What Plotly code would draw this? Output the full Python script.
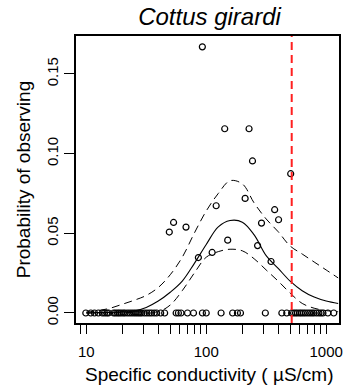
import plotly.graph_objects as go

# ---- data ----
# observed proportions (nonzero)
obs_x = [92.8, 142.6, 227.5, 243, 506, 211, 121, 372, 401, 289, 53.4, 49.2, 67.8, 151, 268, 112, 86, 347]
obs_y = [0.167, 0.1156, 0.1156, 0.0954, 0.0874, 0.0719, 0.0673, 0.0648, 0.0585, 0.0564,
         0.0568, 0.0508, 0.0539, 0.0457, 0.0423, 0.038, 0.0348, 0.0323]
# observed zeros
zero_x = [9.9, 10.9, 11.7, 12.6, 13.6, 14.2, 14.8, 15.3, 16.9, 17.5, 18.2, 18.8, 19.5, 20.3,
          21.0, 22.0, 23.0, 24.0, 25.0, 26.0, 27.0, 28.0, 29.0, 30.5, 32.0, 33.5, 35.0, 36.8,
          38.6, 41.7, 45.0, 56.1, 58.6, 61.6, 69.8, 78.3, 92.9, 100, 133, 166, 182, 193, 311,
          427, 469, 515, 535, 555, 575, 600, 620, 645, 670, 700, 730, 760, 790, 830, 870, 905,
          940, 1033, 1157]
zero_y = [0.0] * len(zero_x)

# fitted curve and confidence bounds
curve_x = [10, 12.6, 15.8, 20, 25.1, 31.6, 39.8, 50.1, 63.1, 79.4, 100, 126, 158, 200, 251,
           316, 398, 501, 631, 794, 1000, 1259]
fit_y = [0.0001, 0.0002, 0.0004, 0.0007, 0.0013, 0.0035, 0.0075, 0.013, 0.020, 0.031, 0.043,
         0.054, 0.058, 0.057, 0.049, 0.036, 0.028, 0.020, 0.014, 0.010, 0.0075, 0.006]
upper_y = [0.0006, 0.0015, 0.003, 0.0055, 0.008, 0.011, 0.016, 0.024, 0.035, 0.050, 0.064,
           0.075, 0.083, 0.081, 0.069, 0.059, 0.051, 0.042, 0.037, 0.032, 0.027, 0.022]
lower_y = [0.0, 0.0, 0.0001, 0.0002, 0.0004, 0.0008, 0.0008, 0.005, 0.014, 0.025, 0.035,
           0.0385, 0.040, 0.039, 0.034, 0.027, 0.020, 0.0125, 0.006, 0.003, 0.0015, 0.0008]

threshold_x = 516

x_tickvals = [9, 10, 20, 30, 40, 50, 60, 70, 80, 90, 100, 200, 300, 400, 500, 600, 700, 800, 900, 1000]
x_ticktext = ["", "10", "", "", "", "", "", "", "", "", "100", "", "", "", "", "", "", "", "", "1000"]
y_tickvals = [0.0, 0.05, 0.10, 0.15]
y_ticktext = ["0.00", "0.05", "0.10", "0.15"]

FONT = "Liberation Sans, Arial, sans-serif"

fig = go.Figure()
fig.add_trace(go.Scatter(x=curve_x, y=upper_y, mode="lines", line=dict(color="black", width=1, dash="8px,5px", shape="spline")))
fig.add_trace(go.Scatter(x=curve_x, y=lower_y, mode="lines", line=dict(color="black", width=1, dash="8px,5px", shape="spline")))
fig.add_trace(go.Scatter(x=curve_x, y=fit_y, mode="lines", line=dict(color="black", width=1.1, shape="spline")))
fig.add_trace(go.Scatter(x=zero_x, y=zero_y, mode="markers",
                         marker=dict(symbol="circle-open", size=6, color="black", line=dict(width=1.2))))
fig.add_trace(go.Scatter(x=obs_x, y=obs_y, mode="markers",
                         marker=dict(symbol="circle-open", size=6, color="black", line=dict(width=1.2))))

fig.add_shape(type="line", xref="x", yref="paper", x0=threshold_x, x1=threshold_x, y0=0, y1=1,
              line=dict(color="#ff2020", width=2, dash="8px,5px"))

fig.update_layout(
    width=350, height=391,
    margin=dict(l=76, r=7, t=36, b=68),
    paper_bgcolor="white", plot_bgcolor="white",
    showlegend=False,
    font=dict(family=FONT, color="black"),
    title=dict(text="Cottus girardi", font=dict(size=24, style="italic", family=FONT, color="black"),
               x=209.5 / 350, xanchor="center", xref="container",
               y=1 - 17 / 391, yanchor="middle", yref="container"),
)
fig.update_xaxes(type="log", range=[0.914, 3.107], tickvals=x_tickvals, ticktext=x_ticktext,
                 ticks="outside", ticklen=9, tickwidth=1, tickcolor="black", ticklabelstandoff=5,
                 showline=True, linecolor="black", linewidth=1.5, mirror=True,
                 showgrid=False, zeroline=False, tickfont=dict(size=15, family=FONT, color="black"))
fig.update_yaxes(range=[-0.00628, 0.1738], tickvals=y_tickvals, ticktext=y_ticktext,
                 tickangle=-90, ticks="outside", ticklen=10, tickwidth=1, tickcolor="black",
                 showline=True, linecolor="black", linewidth=1.5, mirror=True,
                 showgrid=False, zeroline=False, tickfont=dict(size=15, family=FONT, color="black"))

fig.add_annotation(text="Specific conductivity ( µS/cm)", xref="paper", yref="paper",
                   x=(212 - 76) / 267, y=-(374 - 323) / 287, xanchor="center", yanchor="middle",
                   showarrow=False, font=dict(size=19, family=FONT, color="black"))
fig.add_annotation(text="Probability of observing", xref="paper", yref="paper",
                   x=-(76 - 23) / 267, y=0.5, xanchor="center", yanchor="middle", textangle=-90,
                   showarrow=False, font=dict(size=19, family=FONT, color="black"))

fig.write_html("out.html")
